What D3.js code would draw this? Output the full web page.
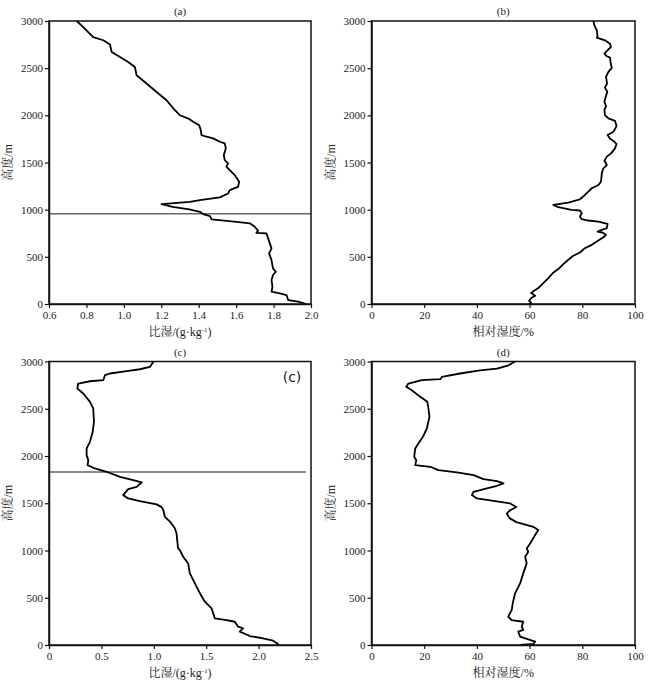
<!DOCTYPE html>
<html>
<head>
<meta charset="utf-8">
<script src="https://cdn.jsdelivr.net/npm/d3@7"></script>
<style>
  html, body { margin: 0; padding: 0; background: #fff; }
  svg { display: block; }
  svg text { font-family: 'Liberation Serif', 'Noto Serif CJK SC', serif; }
  svg text.inner { font-family: 'DejaVu Sans', sans-serif; }
</style>
</head>
<body>
<svg id="chart" width="650" height="680"></svg>
<script>
// ---------------- DATA ----------------
const panelTitles = ["(a)", "(b)", "(c)", "(d)"];
const yTicks = [0, 500, 1000, 1500, 2000, 2500, 3000];
const xTicksA = [0.6, 0.8, 1.0, 1.2, 1.4, 1.6, 1.8, 2.0];
const xTicksB = [0, 20, 40, 60, 80, 100];
const xTicksC = [0, 0.5, 1.0, 1.5, 2.0, 2.5];
const xTicksD = [0, 20, 40, 60, 80, 100];
const xTickLabelsA = ["0.6", "0.8", "1.0", "1.2", "1.4", "1.6", "1.8", "2.0"];
const xTickLabelsB = ["0", "20", "40", "60", "80", "100"];
const xTickLabelsC = ["0", "0.5", "1.0", "1.5", "2.0", "2.5"];
const xTickLabelsD = ["0", "20", "40", "60", "80", "100"];

// (a) specific humidity, g/kg
const heightA = [3000, 2936, 2830, 2796, 2750, 2672, 2619, 2566, 2513, 2425, 2337, 2248, 2160, 2054, 2001, 1966, 1932, 1896, 1844, 1791, 1773, 1756, 1720, 1703, 1650, 1579, 1525, 1491, 1456, 1419, 1366, 1295, 1242, 1207, 1172, 1130, 1101, 1083, 1059, 1030, 1003, 977, 953, 932, 897, 871, 855, 818, 776, 755, 749, 696, 643, 590, 537, 466, 378, 342, 307, 254, 183, 130, 113, 95, 42, 24, 0];
const valueA = [0.748, 0.783, 0.836, 0.89, 0.926, 0.935, 0.979, 1.023, 1.059, 1.068, 1.121, 1.175, 1.228, 1.273, 1.299, 1.345, 1.37, 1.402, 1.411, 1.415, 1.442, 1.477, 1.513, 1.539, 1.545, 1.534, 1.539, 1.557, 1.548, 1.566, 1.593, 1.616, 1.61, 1.566, 1.557, 1.513, 1.406, 1.353, 1.2015, 1.26, 1.35, 1.406, 1.424, 1.46, 1.469, 1.602, 1.673, 1.70, 1.717, 1.708, 1.762, 1.771, 1.78, 1.789, 1.776, 1.789, 1.797, 1.812, 1.797, 1.789, 1.794, 1.789, 1.833, 1.869, 1.878, 1.931, 1.975];

// (b) relative humidity, %
const heightB = [3000, 2954, 2901, 2838, 2824, 2795, 2760, 2725, 2690, 2654, 2626, 2612, 2549, 2503, 2460, 2408, 2337, 2295, 2249, 2196, 2143, 2097, 2055, 2002, 1967, 1942, 1886, 1826, 1791, 1755, 1720, 1696, 1650, 1597, 1562, 1519, 1473, 1438, 1385, 1297, 1262, 1227, 1191, 1156, 1110, 1075, 1050, 1026, 998, 991, 962, 927, 899, 885, 874, 850, 804, 786, 768, 758, 733, 708, 673, 627, 592, 546, 511, 469, 423, 370, 328, 275, 222, 169, 134, 116, 88, 63, 35, 11, 0];
const valueB = [84.2, 84.6, 85.5, 85.8, 85.5, 88.6, 90.5, 90.9, 89.6, 88.4, 89.3, 90.5, 90.8, 91.2, 89.9, 89.0, 89.4, 88.6, 89.5, 88.9, 88.4, 89.0, 88.4, 88.6, 89.9, 92.4, 93.0, 91.8, 89.6, 90.5, 92.2, 93.0, 92.4, 90.9, 89.3, 88.4, 89.3, 88.0, 87.4, 87.1, 86.1, 83.6, 82.3, 81.0, 79.1, 74.7, 69.0, 70.9, 75.9, 79.1, 79.8, 79.1, 79.8, 82.3, 86.1, 89.6, 89.3, 87.4, 85.8, 87.6, 89.0, 88.0, 86.1, 83.6, 81.0, 79.1, 76.6, 74.7, 72.8, 70.9, 68.8, 67.1, 65.2, 63.3, 61.4, 60.6, 62.1, 60.6, 59.8, 60.6, 59.8];

// (c) specific humidity, g/kg
const heightC = [3000, 2943, 2918, 2897, 2873, 2855, 2802, 2791, 2767, 2714, 2661, 2573, 2503, 2362, 2256, 2150, 2080, 2009, 1956, 1903, 1868, 1833, 1780, 1745, 1720, 1674, 1650, 1586, 1551, 1523, 1488, 1459, 1429, 1359, 1306, 1235, 1182, 1112, 1023, 1005, 934, 864, 758, 652, 547, 458, 388, 282, 264, 246, 194, 177, 141, 95, 71, 45, 11, 0];
const valueC = [0.997, 0.963, 0.867, 0.741, 0.582, 0.534, 0.518, 0.391, 0.279, 0.27, 0.327, 0.391, 0.422, 0.429, 0.417, 0.391, 0.359, 0.359, 0.375, 0.369, 0.438, 0.55, 0.677, 0.804, 0.884, 0.836, 0.756, 0.708, 0.756, 0.867, 1.027, 1.075, 1.09, 1.105, 1.153, 1.201, 1.217, 1.223, 1.232, 1.249, 1.28, 1.328, 1.344, 1.392, 1.44, 1.487, 1.551, 1.582, 1.694, 1.773, 1.805, 1.852, 1.821, 1.916, 2.043, 2.138, 2.186, 2.186];

// (d) relative humidity, %
const heightD = [3000, 2960, 2925, 2907, 2873, 2837, 2813, 2802, 2767, 2732, 2696, 2626, 2573, 2503, 2414, 2291, 2203, 2133, 2080, 1991, 1956, 1903, 1886, 1851, 1826, 1798, 1755, 1734, 1710, 1685, 1657, 1621, 1586, 1551, 1526, 1498, 1460, 1426, 1391, 1340, 1300, 1251, 1216, 1163, 1075, 1022, 987, 934, 864, 758, 652, 547, 441, 370, 300, 264, 246, 194, 159, 141, 88, 60, 35, 11, 0];
const valueD = [54.5, 52.0, 47.6, 41.2, 33.6, 26.7, 26.1, 19.1, 14.0, 13.2, 15.3, 18.5, 21.2, 21.6, 22.0, 21.0, 19.5, 17.8, 16.6, 16.2, 17.0, 16.6, 22.3, 25.4, 32.4, 38.7, 42.5, 47.6, 50.1, 47.6, 43.8, 38.7, 38.1, 40.0, 46.3, 52.6, 55.0, 52.6, 51.3, 52.5, 55.0, 61.4, 63.3, 62.1, 60.2, 58.9, 59.5, 58.3, 58.9, 57.6, 56.4, 54.5, 53.6, 53.2, 51.9, 53.2, 57.6, 57.0, 57.6, 55.7, 56.4, 59.5, 62.1, 61.4, 56.4];

// reference lines (m)
const refLineA = 957;
const refLineC = 1830;

const xLabelQ = "比湿/(g·kg";
const xLabelQSup = "-1";
const xLabelRH = "相对湿度/%";
const yLabel = "高度/m";

// ---------------- LAYOUT ----------------
const panels = [
  { title: panelTitles[0], box: [49, 311, 21, 304], xDomain: [0.6, 2.0], ticks: xTicksA, labels: xTickLabelsA, h: heightA, v: valueA, xl: "q", ref: refLineA, refEnd: 311 },
  { title: panelTitles[1], box: [371.5, 635, 21, 304], xDomain: [0, 100], ticks: xTicksB, labels: xTickLabelsB, h: heightB, v: valueB, xl: "rh" },
  { title: panelTitles[2], box: [49, 311, 361.5, 645], xDomain: [0, 2.5], ticks: xTicksC, labels: xTickLabelsC, h: heightC, v: valueC, xl: "q", ref: refLineC, refEnd: 306, inner: "(c)" },
  { title: panelTitles[3], box: [371.5, 635, 361.5, 645], xDomain: [0, 100], ticks: xTicksD, labels: xTickLabelsD, h: heightD, v: valueD, xl: "rh" }
];

const svg = d3.select("#chart");

panels.forEach(p => {
  const [x0, x1, y0, y1] = p.box;
  const x = d3.scaleLinear().domain(p.xDomain).range([x0, x1]);
  const y = d3.scaleLinear().domain([0, 3000]).range([y1, y0]);
  const g = svg.append("g");

  if (p.ref !== undefined) {
    g.append("line")
      .attr("x1", x0).attr("x2", p.refEnd)
      .attr("y1", y(p.ref)).attr("y2", y(p.ref))
      .attr("stroke", "#666").attr("stroke-width", 1.6);
  }

  const pts = p.h.map((hh, i) => [p.v[i], hh]);
  g.append("path")
    .datum(pts)
    .attr("fill", "none")
    .attr("stroke", "#000")
    .attr("stroke-width", 1.8)
    .attr("stroke-linejoin", "round")
    .attr("d", d3.line().x(d => x(d[0])).y(d => y(d[1])));

  g.append("rect")
    .attr("x", x0).attr("y", y0)
    .attr("width", x1 - x0).attr("height", y1 - y0)
    .attr("fill", "none").attr("stroke", "#111").attr("stroke-width", 1.5);

  const xAxis = d3.axisBottom(x).tickValues(p.ticks)
    .tickFormat((d, i) => p.labels[i]).tickSize(4).tickSizeOuter(0).tickPadding(3);
  const gx = g.append("g").attr("transform", `translate(0,${y1})`).call(xAxis)
    .attr("font-family", null).attr("font-size", 11);
  gx.select(".domain").attr("stroke", "#111").attr("stroke-width", 1.5);
  gx.selectAll(".tick line").attr("stroke", "#111").attr("stroke-width", 1.2);
  gx.selectAll(".tick text").attr("fill", "#222");

  const yAxis = d3.axisLeft(y).tickValues(yTicks).tickSize(4).tickSizeOuter(0).tickPadding(2)
    .tickFormat(d3.format("d"));
  const gy = g.append("g").attr("transform", `translate(${x0},0)`).call(yAxis)
    .attr("font-family", null).attr("font-size", 11);
  gy.select(".domain").attr("stroke", "#111").attr("stroke-width", 1.5);
  gy.selectAll(".tick line").attr("stroke", "#111").attr("stroke-width", 1.2);
  gy.selectAll(".tick text").attr("fill", "#222");

  g.append("text")
    .attr("x", (x0 + x1) / 2).attr("y", y0 - 6)
    .attr("text-anchor", "middle")
    .attr("font-size", 11).attr("fill", "#222")
    .text(p.title);

  const xt = g.append("text")
    .attr("x", (x0 + x1) / 2).attr("y", y1 + 32)
    .attr("text-anchor", "middle")
    .attr("font-size", 12).attr("fill", "#222");
  if (p.xl === "q") {
    xt.append("tspan").text(xLabelQ);
    xt.append("tspan").attr("font-size", 7).attr("dy", -4).text(xLabelQSup);
    xt.append("tspan").attr("dy", 4).text(")");
  } else {
    xt.text(xLabelRH);
  }

  g.append("text")
    .attr("transform", `translate(${x0 - 37},${(y0 + y1) / 2}) rotate(-90)`)
    .attr("text-anchor", "middle")
    .attr("font-size", 12).attr("fill", "#222")
    .text(yLabel);

  if (p.inner) {
    g.append("text")
      .attr("class", "inner")
      .attr("x", x1 - 19).attr("y", y0 + 20)
      .attr("text-anchor", "middle")
      .attr("font-size", 14).attr("fill", "#222")
      .text(p.inner);
  }
});
</script>
</body>
</html>
